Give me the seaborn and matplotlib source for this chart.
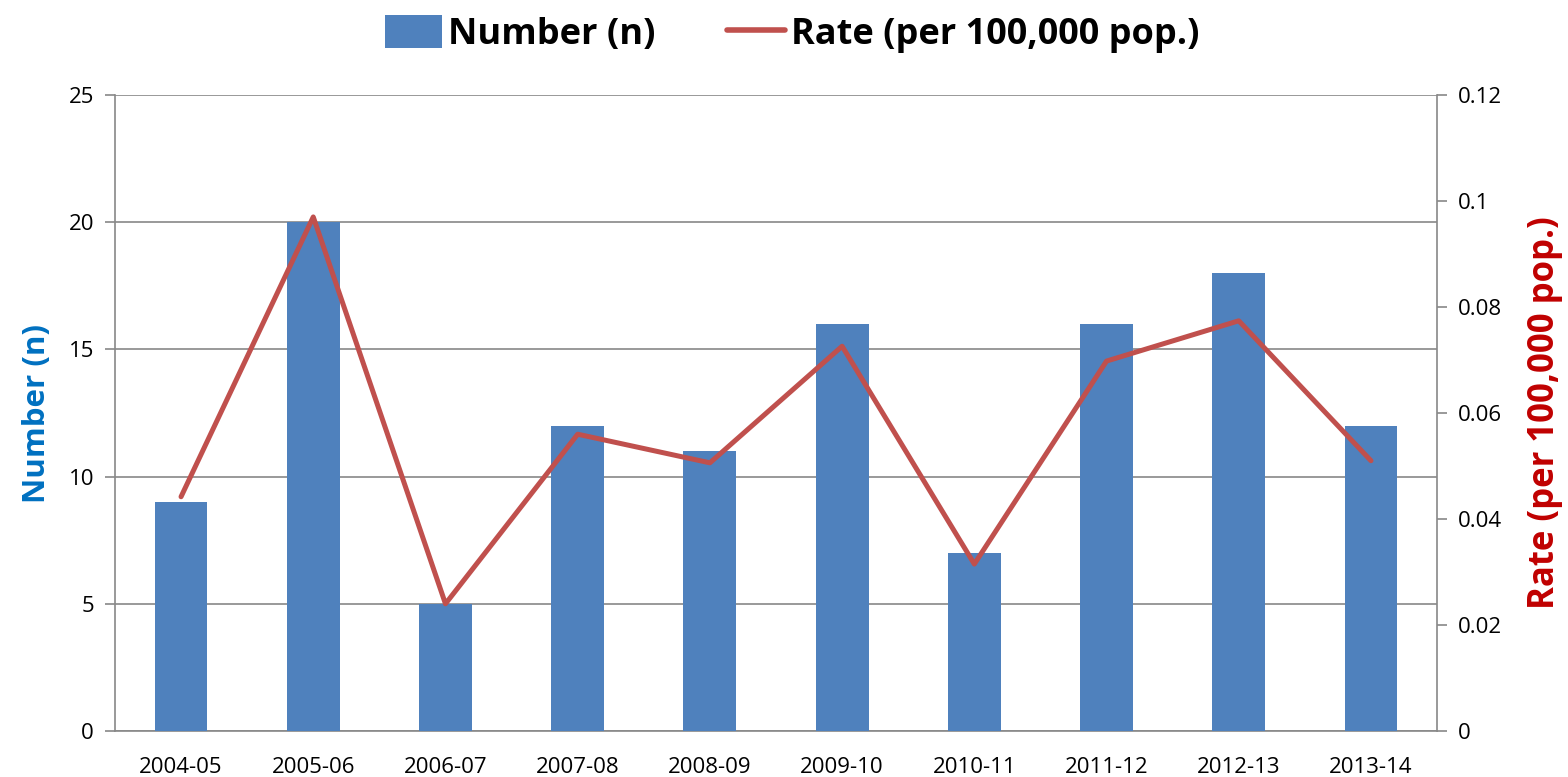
import numpy as np
import pandas as pd
import matplotlib
matplotlib.use("Agg")
import matplotlib.pyplot as plt
from matplotlib.patches import Patch
from matplotlib.lines import Line2D
import seaborn as sns

sns.set_style("white")
plt.rcParams['font.family'] = ['Open Sans', 'DejaVu Sans']
plt.rcParams['text.color'] = 'black'

seasons = ['2004-05', '2005-06', '2006-07', '2007-08', '2008-09',
           '2009-10', '2010-11', '2011-12', '2012-13', '2013-14']
number = [9, 20, 5, 12, 11, 16, 7, 16, 18, 12]
rate = [0.0442, 0.0970, 0.0240, 0.0560, 0.0506, 0.0726, 0.0315, 0.0698, 0.0774, 0.0510]

bar_color = '#4F81BD'
line_color = '#C0504D'
grey = '#888888'

df = pd.DataFrame({'season': seasons, 'number': number, 'rate': rate})

fig = plt.figure(figsize=(15.68, 7.77), dpi=100)
ax = fig.add_axes([0.0733, 0.0592, 0.8432, 0.8185])

sns.barplot(data=df, x='season', y='number', color=bar_color, width=0.4,
            saturation=1, linewidth=0, ax=ax, zorder=3)
ax.set_ylim(0, 25)
ax.set_yticks(range(0, 26, 5))
ax.set_xlim(-0.5, len(seasons) - 0.5)
ax.yaxis.grid(True, color=grey, linewidth=1.2, zorder=0)
ax.set_axisbelow(True)

ax2 = ax.twinx()
sns.lineplot(x=np.arange(len(seasons)), y=df['rate'], color=line_color,
             linewidth=3.6, ax=ax2, zorder=4)
ax2.set_ylim(0, 0.12)
ax2.set_yticks([0, 0.02, 0.04, 0.06, 0.08, 0.1, 0.12])
ax2.set_yticklabels(['0', '0.02', '0.04', '0.06', '0.08', '0.1', '0.12'])

# x ticks at category boundaries, labels at centres
ax.set_xticks(np.arange(len(seasons)))
ax.set_xticklabels(seasons, fontsize=16)
ax.set_xticks(np.arange(-0.5, len(seasons)), minor=True)
ax.tick_params(axis='x', which='major', length=0, pad=19, labelcolor='black')
ax.tick_params(axis='x', which='minor', length=7, color=grey, width=1.2, direction='out')
ax.tick_params(axis='y', length=7, color=grey, width=1.2, direction='out', labelsize=16,
               pad=8, labelcolor='black')
ax2.tick_params(axis='y', length=7, color=grey, width=1.2, direction='out', labelsize=16,
                pad=8, labelcolor='black')

for a in (ax, ax2):
    for s in a.spines.values():
        s.set_visible(False)
ax.spines['left'].set_visible(True)
ax.spines['bottom'].set_visible(True)
ax2.spines['right'].set_visible(True)
for s in (ax.spines['left'], ax.spines['bottom'], ax2.spines['right']):
    s.set_color(grey)
    s.set_linewidth(1.2)

ax.set_xlabel('')
ax.set_ylabel('Number (n)', fontsize=22.5, fontweight='bold', color='#0070C0', labelpad=12)
ax2.set_ylabel('Rate (per 100,000 pop.)', fontsize=25, fontweight='bold', color='#C00000',
               labelpad=18)

handles = [Patch(facecolor=bar_color, edgecolor='none'),
           Line2D([0], [0], color=line_color, linewidth=4)]
fig.legend(handles, ['Number (n)', 'Rate (per 100,000 pop.)'], loc='upper center',
           bbox_to_anchor=(0.505, 1.022), ncol=2, frameon=False, handlelength=1.6,
           handleheight=1.0, handletextpad=0.15, columnspacing=2.0,
           prop={'size': 26, 'weight': 'bold'})

fig.savefig('out.png', dpi=100)
